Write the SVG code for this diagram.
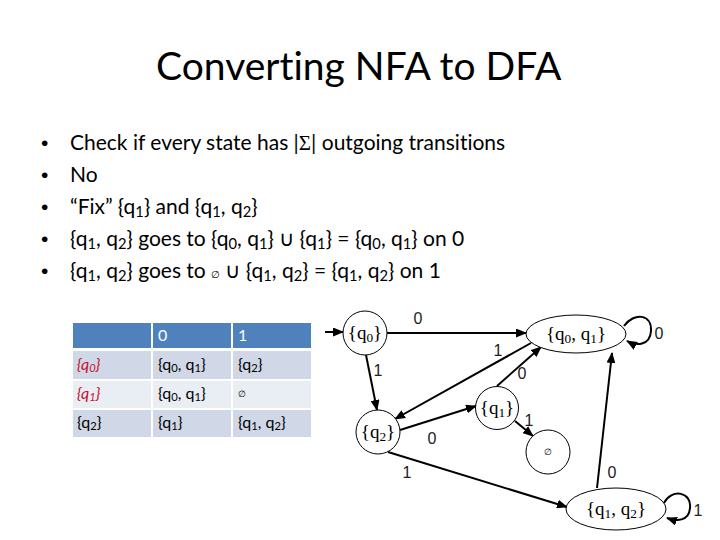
<svg xmlns="http://www.w3.org/2000/svg" width="720" height="540" viewBox="0 0 720 540">
<style>
text{font-variant-ligatures:none}
.title{font-family:Lato,"Liberation Sans",sans-serif;font-size:39px;fill:#000}
.bul{font-family:Lato,"Liberation Sans",sans-serif;font-size:21px;fill:#000}
.dot{font-family:"Liberation Sans",sans-serif;font-size:21px;fill:#000}
.sym{font-family:"Liberation Serif",serif}
.sub{font-size:70%;baseline-shift:-22%}
.small{font-size:10px}
.th{font-family:Lato,"Liberation Sans",sans-serif;font-size:16px;fill:#fff}
.td{font-family:Lato,"Liberation Sans",sans-serif;font-size:16px;fill:#000}
.red{fill:#C8102E;font-style:italic}
.node{fill:#fff;stroke:#000;stroke-width:1}
.nl{font-family:"Liberation Serif",serif;font-size:19px;fill:#000;text-anchor:middle}
.tiny{font-size:9px}
.edge{fill:none;stroke:#000;stroke-width:2;marker-end:url(#arr)}
.el{font-family:"Liberation Sans",sans-serif;font-size:16px;fill:#222;text-anchor:middle}
</style>
<defs>
<marker id="arr" markerUnits="userSpaceOnUse" markerWidth="11" markerHeight="9" refX="10" refY="4.5" orient="auto">
<path d="M0,0 L11,4.5 L0,9 z" fill="#000"/>
</marker>
</defs>
<rect width="720" height="540" fill="#fff"/>
<text class="title" x="156" y="80">Converting NFA to DFA</text>
<g id="bullets">
<text class="dot" x="41" y="150">•</text>
<text class="bul" x="70" y="150">Check if every state has |<tspan class="sym">Σ</tspan>| outgoing transitions</text>
<text class="dot" x="41" y="182">•</text>
<text class="bul" x="70" y="182">No</text>
<text class="dot" x="41" y="214">•</text>
<text class="bul" x="70" y="214">“Fix” {q<tspan class="sub">1</tspan>} and {q<tspan class="sub">1</tspan>, q<tspan class="sub">2</tspan>}</text>
<text class="dot" x="41" y="246">•</text>
<text class="bul" x="70" y="246">{q<tspan class="sub">1</tspan>, q<tspan class="sub">2</tspan>} goes to {q<tspan class="sub">0</tspan>, q<tspan class="sub">1</tspan>} ∪ {q<tspan class="sub">1</tspan>} = {q<tspan class="sub">0</tspan>, q<tspan class="sub">1</tspan>} on 0</text>
<text class="dot" x="41" y="278">•</text>
<text class="bul" x="70" y="278">{q<tspan class="sub">1</tspan>, q<tspan class="sub">2</tspan>} goes to <tspan class="small">∅</tspan> ∪ {q<tspan class="sub">1</tspan>, q<tspan class="sub">2</tspan>} = {q<tspan class="sub">1</tspan>, q<tspan class="sub">2</tspan>} on 1</text>
</g>
<g id="table">
<rect x="73" y="323" width="78" height="25" fill="#4F81BD"/>
<rect x="153" y="323" width="78" height="25" fill="#4F81BD"/>
<rect x="233" y="323" width="78" height="25" fill="#4F81BD"/>
<rect x="73" y="351" width="78" height="28" fill="#D0D8E8"/>
<rect x="153" y="351" width="78" height="28" fill="#D0D8E8"/>
<rect x="233" y="351" width="78" height="28" fill="#D0D8E8"/>
<rect x="73" y="381" width="78" height="27" fill="#E9EDF4"/>
<rect x="153" y="381" width="78" height="27" fill="#E9EDF4"/>
<rect x="233" y="381" width="78" height="27" fill="#E9EDF4"/>
<rect x="73" y="410" width="78" height="27" fill="#D0D8E8"/>
<rect x="153" y="410" width="78" height="27" fill="#D0D8E8"/>
<rect x="233" y="410" width="78" height="27" fill="#D0D8E8"/>
<text class="th" x="158" y="341">0</text>
<text class="th" x="238" y="341">1</text>
<text class="td red" x="77" y="370">{q<tspan class="sub">0</tspan>}</text>
<text class="td" x="158" y="370">{q<tspan class="sub">0</tspan>, q<tspan class="sub">1</tspan>}</text>
<text class="td" x="238" y="370">{q<tspan class="sub">2</tspan>}</text>
<text class="td red" x="77" y="399">{q<tspan class="sub">1</tspan>}</text>
<text class="td" x="158" y="399">{q<tspan class="sub">0</tspan>, q<tspan class="sub">1</tspan>}</text>
<text class="td tiny" x="238" y="397">∅</text>
<text class="td" x="77" y="428">{q<tspan class="sub">2</tspan>}</text>
<text class="td" x="158" y="428">{q<tspan class="sub">1</tspan>}</text>
<text class="td" x="238" y="428">{q<tspan class="sub">1</tspan>, q<tspan class="sub">2</tspan>}</text>
</g>
<g id="connectors">
<path class="edge" d="M325,332 L343,332"/>
<path class="edge" d="M387,333 L526,333"/>
<path class="edge" d="M366,355 L377,410"/>
<path class="edge" d="M531,343 L395,419"/>
<path class="edge" d="M497,386 L541,347"/>
<path class="edge" d="M400,430 L476,406"/>
<path class="edge" d="M515,421 L533,436"/>
<path class="edge" d="M388,452 L567,507"/>
<path class="edge" d="M597,488 L612,353"/>
<path class="edge" d="M624,326 C634,312 652,314 651,331 C650,346 636,346 627,341"/>
<path class="edge" d="M664,503 C672,488 692,492 690,508 C689,522 676,521 667,518"/>
<text class="el" x="418" y="324">0</text>
<text class="el" x="378" y="376">1</text>
<text class="el" x="498" y="356">1</text>
<text class="el" x="522" y="379">0</text>
<text class="el" x="432" y="444">0</text>
<text class="el" x="529" y="426">1</text>
<text class="el" x="407" y="478">1</text>
<text class="el" x="612" y="478">0</text>
<text class="el" x="659" y="339">0</text>
<text class="el" x="698" y="516">1</text>
</g>
<g id="n_q0">
<circle class="node" cx="365" cy="333" r="22"/>
<text class="nl" x="365" y="339">{q<tspan class="sub">0</tspan>}</text>
</g>
<g id="n_q0q1">
<ellipse class="node" cx="576" cy="334" rx="50" ry="19"/>
<text class="nl" x="576" y="340">{q<tspan class="sub">0</tspan>, q<tspan class="sub">1</tspan>}</text>
</g>
<g id="n_q2">
<circle class="node" cx="378" cy="432" r="22"/>
<text class="nl" x="378" y="438">{q<tspan class="sub">2</tspan>}</text>
</g>
<g id="n_q1">
<circle class="node" cx="497" cy="408" r="21.5"/>
<text class="nl" x="497" y="414">{q<tspan class="sub">1</tspan>}</text>
</g>
<g id="n_empty">
<circle class="node" cx="548" cy="452" r="22"/>
<text class="nl tiny" x="548" y="455">∅</text>
</g>
<g id="n_q1q2">
<ellipse class="node" cx="616" cy="509" rx="50" ry="21"/>
<text class="nl" x="616" y="515">{q<tspan class="sub">1</tspan>, q<tspan class="sub">2</tspan>}</text>
</g>
</svg>
